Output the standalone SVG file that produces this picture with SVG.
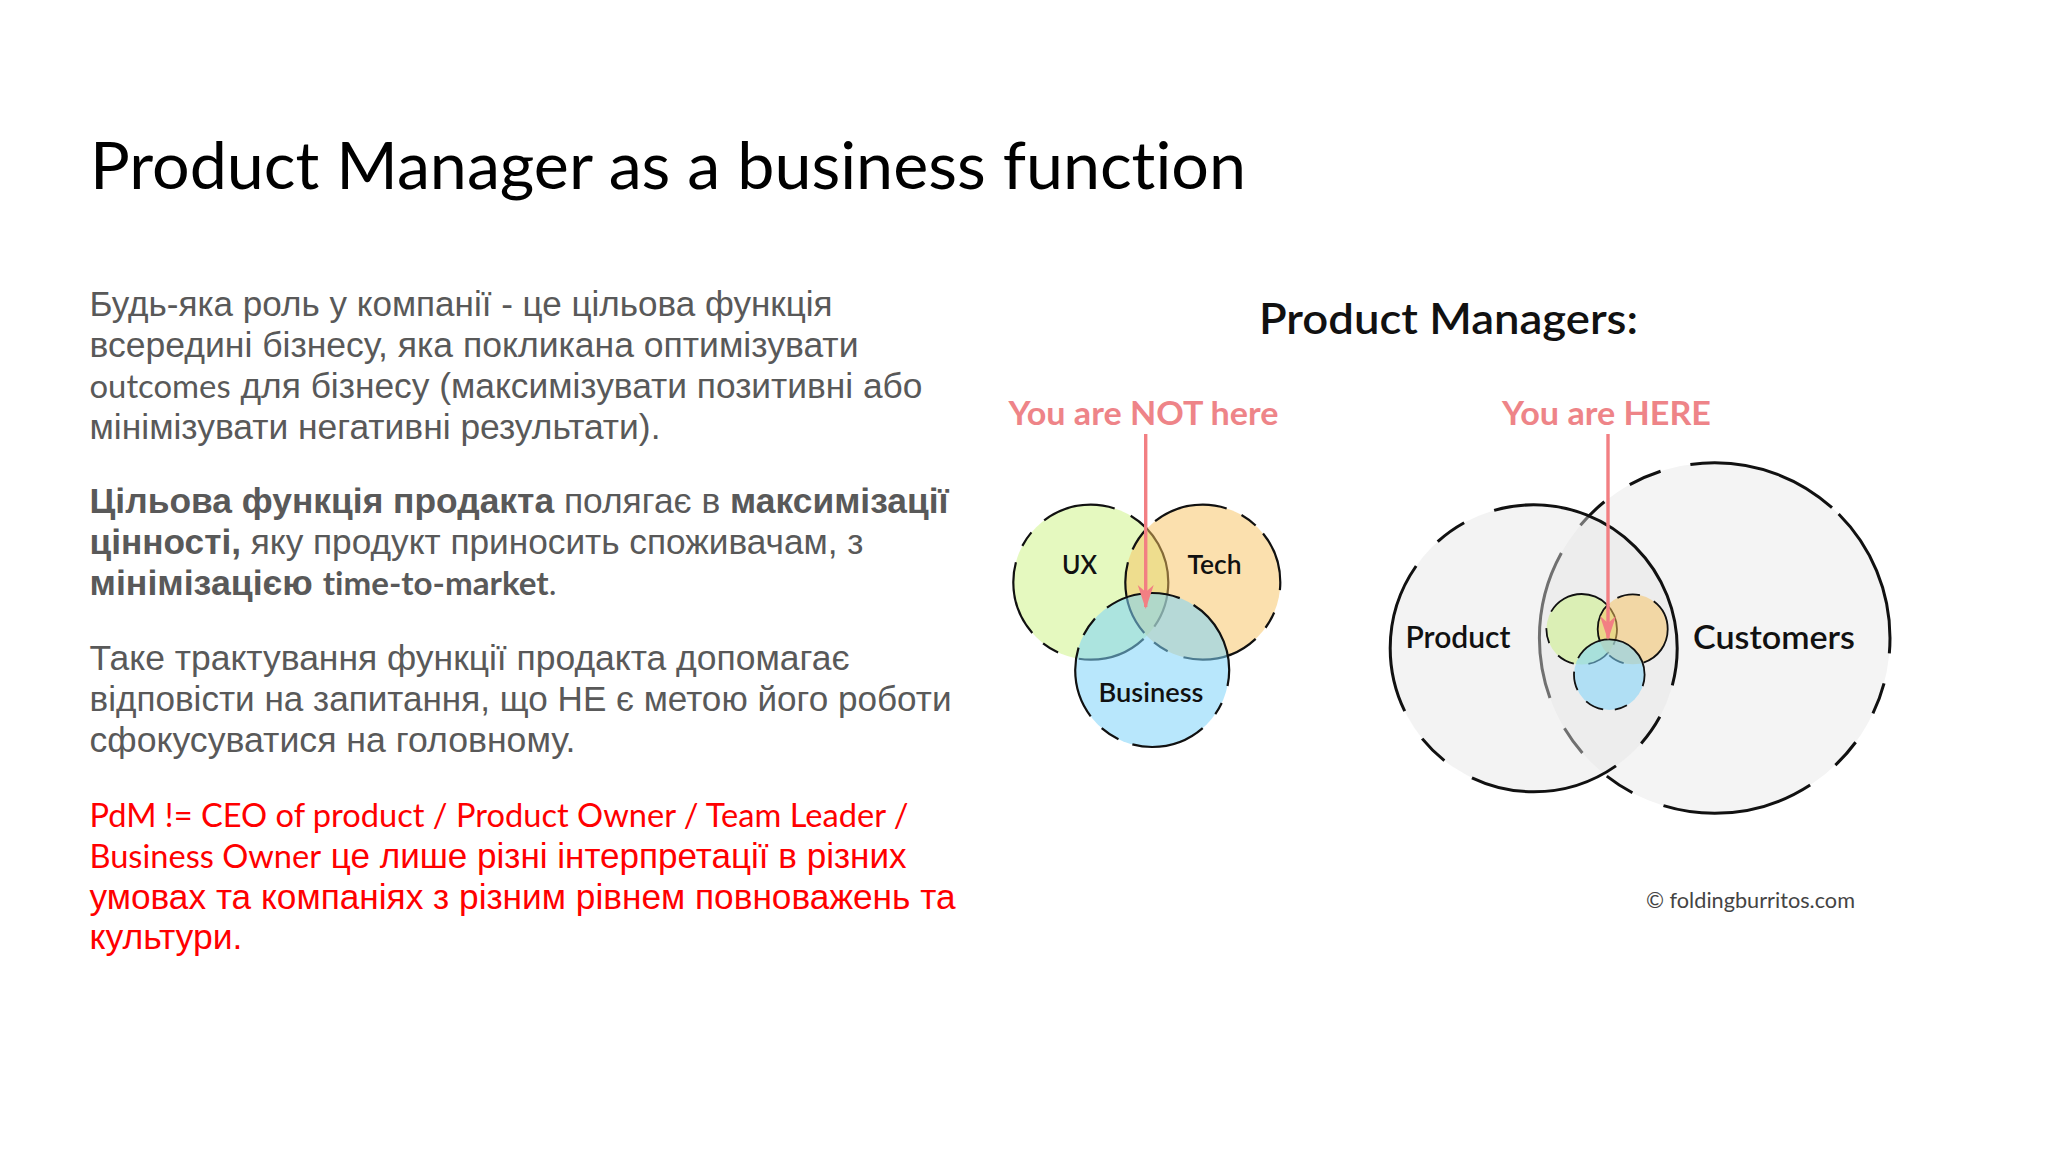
<svg xmlns="http://www.w3.org/2000/svg" width="2048" height="1152" viewBox="0 0 2048 1152">
<style>
text{font-variant-ligatures:none}
.title{font-family:"Lato","Liberation Sans",sans-serif;font-size:66px;fill:#000}
.b{font-family:"Liberation Sans",Arial,sans-serif;font-size:35.3px;fill:#595959}
.r{font-family:"Liberation Sans",Arial,sans-serif;font-size:35.3px;fill:#f00}
.l{font-family:"Lato",sans-serif;font-size:32.8px}
.bd{font-weight:700}
.k{font-family:"Lato",sans-serif;font-weight:600;fill:#111}
.p{font-family:"Lato",sans-serif;font-weight:700;fill:#ee8488;font-size:33px}
.ux{fill:#c6f172;fill-opacity:.45}
.te{fill:#f7c15d;fill-opacity:.5}
.bu{fill:#7ed3fa;fill-opacity:.55}
.s{stroke:#111;fill:none}
.s1{stroke-width:2.2}
.s2{stroke-width:1.8}
.s3{stroke-width:3}
.arr{stroke:#f27f83;stroke-width:3.4;fill:none;marker-end:url(#h)}
</style>
<defs>
<marker id="h" markerUnits="userSpaceOnUse" markerWidth="30" markerHeight="20" refX="22" refY="9" orient="auto">
<path d="M0 1L24 9L0 17L7 9Z" fill="#f27f83"/>
</marker>
</defs>
<rect width="2048" height="1152" fill="#fff"/>
<text class="title" x="90" y="189" textLength="1156" lengthAdjust="spacingAndGlyphs">Product Manager as a business function</text>
<g id="text">
<text class="b" x="89.5" y="316" textLength="743" lengthAdjust="spacingAndGlyphs">Будь-яка роль у компанії - це цільова функція</text>
<text class="b" x="89.5" y="357" textLength="769" lengthAdjust="spacingAndGlyphs">всередині бізнесу, яка покликана оптимізувати</text>
<text class="b" x="89.5" y="398" textLength="833" lengthAdjust="spacingAndGlyphs"><tspan class="l">outcomes</tspan> для бізнесу (максимізувати позитивні або</text>
<text class="b" x="89.5" y="439" textLength="571" lengthAdjust="spacingAndGlyphs">мінімізувати негативні результати).</text>
<text class="b" x="89.5" y="513" textLength="859" lengthAdjust="spacingAndGlyphs"><tspan class="bd">Цільова функція продакта</tspan> полягає в <tspan class="bd">максимізації</tspan></text>
<text class="b" x="89.5" y="554" textLength="774" lengthAdjust="spacingAndGlyphs"><tspan class="bd">цінності,</tspan> яку продукт приносить споживачам, з</text>
<text class="b" x="89.5" y="595" textLength="467" lengthAdjust="spacingAndGlyphs"><tspan class="bd">мінімізацією <tspan class="l">time-to-market</tspan></tspan><tspan class="l">.</tspan></text>
<text class="b" x="89.5" y="670" textLength="760" lengthAdjust="spacingAndGlyphs">Таке трактування функції продакта допомагає</text>
<text class="b" x="89.5" y="711" textLength="862" lengthAdjust="spacingAndGlyphs">відповісти на запитання, що НЕ є метою його роботи</text>
<text class="b" x="89.5" y="752" textLength="486" lengthAdjust="spacingAndGlyphs">сфокусуватися на головному.</text>
<text class="r" x="89.5" y="826.5" textLength="819" lengthAdjust="spacingAndGlyphs"><tspan class="l">PdM != CEO of product / Product Owner / Team Leader /</tspan></text>
<text class="r" x="89.5" y="867.5" textLength="817" lengthAdjust="spacingAndGlyphs"><tspan class="l">Business Owner</tspan> це лише різні інтерпретації в різних</text>
<text class="r" x="89.5" y="908.5" textLength="866" lengthAdjust="spacingAndGlyphs">умовах та компаніях з різним рівнем повноважень та</text>
<text class="r" x="89.5" y="949" textLength="153" lengthAdjust="spacingAndGlyphs">культури.</text>
</g>
<text class="k" x="1259" y="334" font-size="43" textLength="379" lengthAdjust="spacingAndGlyphs">Product Managers:</text>
<text class="p" x="1008.5" y="425" textLength="270" lengthAdjust="spacingAndGlyphs">You are NOT here</text>
<text class="p" x="1502" y="425" textLength="209" lengthAdjust="spacingAndGlyphs">You are HERE</text>
<g id="venn-left">
<g id="ux"><circle class="ux" cx="1090.8" cy="582.2" r="77.5"/><circle class="s s1" cx="1090.8" cy="582.2" r="77.5" pathLength="360" stroke-dashoffset="-47" stroke-dasharray="52 16 13 11 56 13 12 13 55 13 94 12"/><text class="k" x="1062" y="574" font-size="26" textLength="35" lengthAdjust="spacingAndGlyphs">UX</text></g>
<g id="tech"><circle class="te" cx="1202.8" cy="582.2" r="77.5"/><circle class="s s1" cx="1202.8" cy="582.2" r="77.5" pathLength="360" stroke-dashoffset="-47" stroke-dasharray="57.5 12.5 12 10 56 10 19 8 56 12 13 8 45 17 13 11"/><text class="k" x="1187.5" y="574" font-size="26" textLength="54" lengthAdjust="spacingAndGlyphs">Tech</text></g>
<g id="business"><circle class="bu" cx="1152.2" cy="670" r="77"/><circle class="s s1" cx="1152.2" cy="670" r="77" pathLength="360" stroke-dashoffset="-49" stroke-dasharray="56 11 15 12 54 10 15 12 57 11.5 69.5 13.5 9.5 14"/><text class="k" x="1098.5" y="702" font-size="26" textLength="105" lengthAdjust="spacingAndGlyphs">Business</text></g>
</g>
<g id="venn-right">
<g id="customers"><circle fill="#f4f4f4" cx="1714.7" cy="638" r="175.3"/><circle class="s s3" cx="1714.7" cy="638" r="175.3" pathLength="360" stroke-dashoffset="-57" stroke-dasharray="50 11 10 11 10 11 49 11 11 10 11 10 50 3 50 10 10.5 11 10 10.5"/><text class="k" x="1693" y="649" font-size="33" textLength="162" lengthAdjust="spacingAndGlyphs">Customers</text></g>
<g id="product"><circle fill="#e5e5e5" fill-opacity=".45" cx="1533.7" cy="648.3" r="143.5"/><circle class="s s3" cx="1533.7" cy="648.3" r="143.5" pathLength="360" stroke-dashoffset="-55" stroke-dasharray="60.5 13 12.5 13 61 13 13 13 121 13.5 13 13.5"/><text class="k" x="1405.5" y="648" font-size="30" textLength="105" lengthAdjust="spacingAndGlyphs">Product</text></g>
<g id="ux-small"><circle class="ux" cx="1581.7" cy="629.3" r="35.3"/><circle class="s s2" cx="1581.7" cy="629.3" r="35.3" pathLength="360" stroke-dashoffset="-40" stroke-dasharray="39 24 29 25 25 28 176 14"/></g>
<g id="tech-small"><circle class="te" cx="1632.7" cy="629.3" r="35"/><circle class="s s2" cx="1632.7" cy="629.3" r="35" pathLength="360" stroke-dashoffset="-105" stroke-dasharray="27 27 68 17 38 25 125 33"/></g>
<g id="business-small"><circle class="bu" cx="1609.3" cy="674.7" r="35.3"/><circle class="s s2" cx="1609.3" cy="674.7" r="35.3" pathLength="360" stroke-dashoffset="-60" stroke-dasharray="21 19 31 23 31 23 171 41"/></g>
</g>
<g id="connectors">
<path class="arr" d="M1145.7 434V607"/>
<path class="arr" d="M1608 434V638"/>
</g>
<text x="1646" y="908" font-family="Lato,sans-serif" font-size="21" fill="#444" textLength="209" lengthAdjust="spacingAndGlyphs">© foldingburritos.com</text>
</svg>
